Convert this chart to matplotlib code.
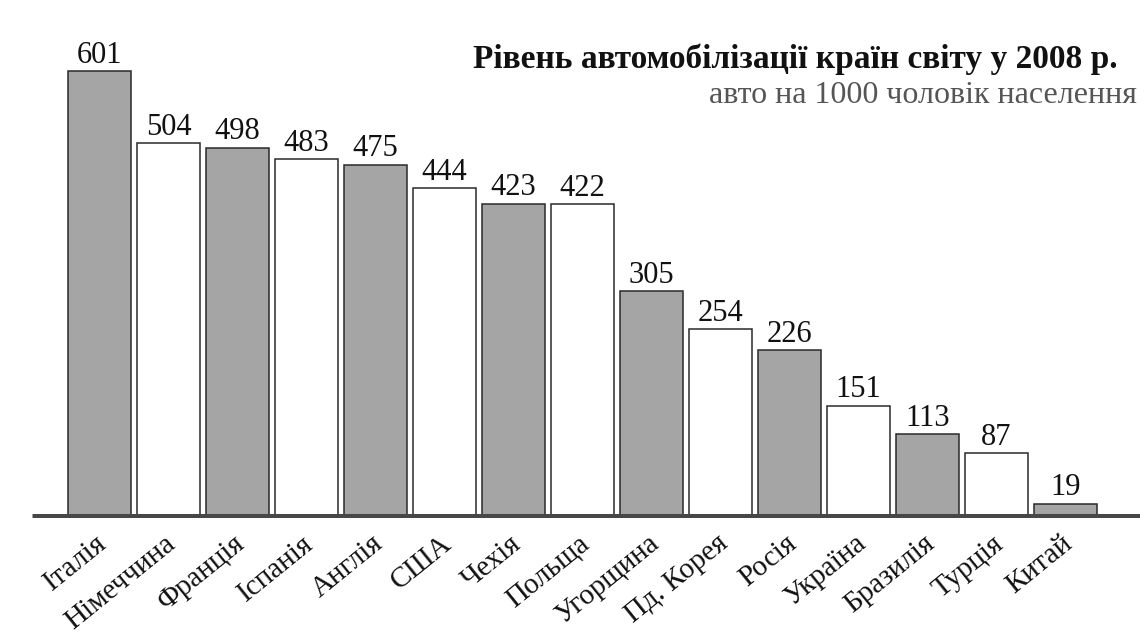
#!/usr/bin/env python
# -*- encoding: utf-8 -*-
'''
@Desc : car ownership level by country, 2008 (bar chart)
'''

import matplotlib
matplotlib.use('Agg')
import matplotlib.pyplot as plt
import numpy as np

plt.rcParams['font.family'] = ['Liberation Serif', 'DejaVu Serif']

# data
countries = ['Італія', 'Німеччина', 'Франція', 'Іспанія', 'Англія', 'США', 'Чехія',
             'Польща', 'Угорщина', 'Пд. Корея', 'Росія', 'Україна', 'Бразилія',
             'Турція', 'Китай']
cars_per_1000 = [601, 504, 498, 483, 475, 444, 423, 422, 305, 254, 226, 151, 113, 87, 19]

title = 'Рівень автомобілізації країн світу у 2008 р.'
subtitle = 'авто на 1000 чоловік населення'

GRAY = '#a5a5a5'
WHITE = '#ffffff'


def plot_bars(ax, names, values):
    """
    draw alternating gray / white bars with value labels on top
    :param ax: axes
    :param names, values: categories and values
    """
    x = np.arange(len(values))
    colors = [GRAY if i % 2 == 0 else WHITE for i in x]
    ax.bar(x, values, width=0.9, color=colors, edgecolor='#2a2a2a', linewidth=1.1, zorder=2)

    # numbers above the bars
    for xi, v in zip(x, values):
        ax.annotate(str(v), (xi, v), xytext=(0, 1), textcoords='offset points',
                    ha='center', va='bottom', fontsize=22, color='#111111')

    # thick base line
    ax.axhline(0, color='#474747', linewidth=6.5, zorder=3, solid_capstyle='butt')

    # rotated country names
    for xi, name in zip(x, names):
        ax.annotate(name, (xi - 0.06, 0), xytext=(0, -9), textcoords='offset points',
                    ha='right', va='top', rotation=39, rotation_mode='anchor',
                    fontsize=21, color='#111111', annotation_clip=False)

    ax.set_xlim(-0.978, 15.08)
    ax.set_ylim(0, 690)
    ax.axis('off')


def main():
    fig = plt.figure(figsize=(11.48, 6.34), dpi=100)
    fig.patch.set_facecolor('white')
    ax = fig.add_axes([32 / 1148, 116 / 634, 1108 / 1148, 513 / 634])
    plot_bars(ax, countries, cars_per_1000)

    fig.text(1118 / 1148, 1 - 68 / 634, title, ha='right', va='baseline',
             fontsize=24, fontweight='bold', color='#111111')
    fig.text(1137 / 1148, 1 - 103 / 634, subtitle, ha='right', va='baseline',
             fontsize=23, color='#555555')

    fig.savefig('out.png', dpi=100)


if __name__ == '__main__':
    main()
